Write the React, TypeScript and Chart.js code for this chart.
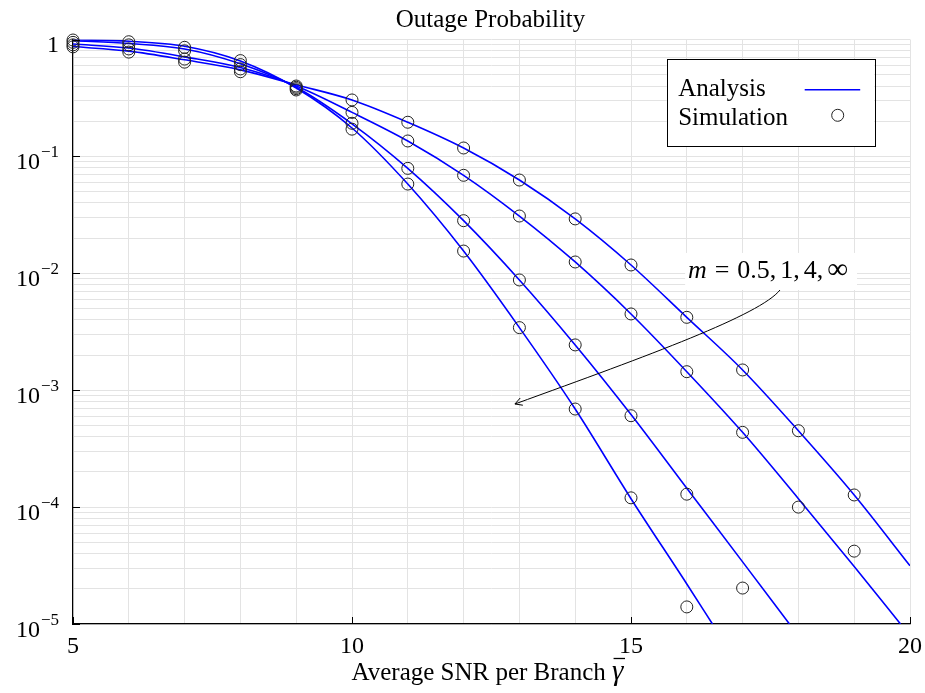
import React, { useEffect, useRef } from "react";
import { Chart, registerables } from "chart.js";

Chart.register(...registerables);

// ---------------- data ----------------
// Analysis curves, m = infinity, 4, 1, 0.5
const analysisXInf = [5, 6, 7, 8, 9, 10, 11, 12, 13, 14, 15, 16, 16.46];
const analysisYInf = [0.995, 0.965, 0.875, 0.655, 0.385, 0.175, 0.058, 0.0155, 0.00343, 0.00069, 0.000118, 2.2e-5, 1e-5];

const analysisX4 = [5, 6, 7, 8, 9, 10, 11, 12, 13, 14, 15, 16, 17, 17.84];
const analysisY4 = [0.975, 0.925, 0.83, 0.62, 0.39, 0.19, 0.079, 0.0282, 0.00877, 0.00244, 0.00062, 0.000145, 3.4e-5, 1e-5];

const analysisX1 = [5, 6, 7, 8, 9, 10, 11, 12, 13, 14, 15, 16, 17, 18, 19, 19.83];
const analysisY1 = [0.915, 0.845, 0.71, 0.575, 0.4, 0.238, 0.1355, 0.0689, 0.0309, 0.0125, 0.00449, 0.00144, 0.000436, 0.000118, 3.1e-5, 1e-5];

const analysisX05 = [5, 6, 7, 8, 9, 10, 11, 12, 13, 14, 15, 16, 17, 18, 19, 20];
const analysisY05 = [0.87, 0.795, 0.67, 0.55, 0.41, 0.304, 0.196, 0.118, 0.0628, 0.0292, 0.01178, 0.0042, 0.00149, 0.00045, 0.000127, 3.15e-5];

// Simulation points
const simX = [5, 6, 7, 8, 9, 10, 11, 12, 13, 14, 15, 16, 17, 18, 19];
const simInf = [0.99, 0.957, 0.857, 0.66, 0.37, 0.171, 0.058, 0.0155, 0.00343, 0.00069, 0.00012, 1.4e-5, null, null, null];
const sim4 = [0.945, 0.9, 0.8, 0.61, 0.38, 0.192, 0.079, 0.0282, 0.00877, 0.00244, 0.000605, 0.000129, 2.03e-5, null, null];
const sim1 = [0.9, 0.83, 0.68, 0.56, 0.39, 0.238, 0.1355, 0.0689, 0.0309, 0.0125, 0.00449, 0.00144, 0.000436, 1.0e-4, 4.2e-5];
const sim05 = [0.865, 0.78, 0.64, 0.53, 0.4, 0.304, 0.196, 0.118, 0.0628, 0.0292, 0.01178, 0.0042, 0.00149, 0.00045, 0.000127];

// Axis ticks
const xMin = 5;
const xMax = 20;
const xLabelTicks = [5, 10, 15, 20];
const yExponents = [0, -1, -2, -3, -4, -5];
const yMinorMultipliers = [1, 2, 3, 4, 5, 6, 7, 8, 9];

// Texts
const titleText = "Outage Probability";
const xTitleText = "Average SNR per Branch";
const legendLabels = ["Analysis", "Simulation"];
const annotationLabel = ["m", "=", "0.5", "1", "4", "\u221E"];
// annotation anchor positions in data units
const annoBox = { x0: 15.97, x1: 19.05, y0: Math.pow(10, -1.826), y1: Math.pow(10, -2.143) };
const annoText = { x: 16.02, y: Math.pow(10, -2.04) };
const annoArrow = {
  start: { x: 17.67, y: Math.pow(10, -2.143) },
  cp1: { x: 17.31, y: Math.pow(10, -2.357) },
  cp2: { x: 15.34, y: Math.pow(10, -2.699) },
  end: { x: 12.92, y: Math.pow(10, -3.118) },
};

const BLUE = "rgb(0,0,255)";
const GRID = "#e3e3e3";
const SERIF = '"Liberation Serif", "Times New Roman", serif';

function zip(xs: number[], ys: (number | null)[]) {
  return xs.map((x, i) => ({ x, y: ys[i] }));
}

const decorations = {
  id: "decorations",
  afterDatasetsDraw(chart: any) {
    const ctx = chart.ctx as CanvasRenderingContext2D;
    const xs = chart.scales.x;
    const ys = chart.scales.y;
    const px = (v: number) => xs.getPixelForValue(v);
    const py = (v: number) => ys.getPixelForValue(v);
    ctx.save();
    // white label background
    ctx.fillStyle = "#fff";
    const bx0 = px(annoBox.x0), bx1 = px(annoBox.x1), by0 = py(annoBox.y0), by1 = py(annoBox.y1);
    ctx.fillRect(bx0, by0, bx1 - bx0, by1 - by0);
    // label text
    let cx = px(annoText.x);
    const base = py(annoText.y);
    ctx.fillStyle = "#000";
    ctx.textBaseline = "alphabetic";
    ctx.textAlign = "left";
    ctx.font = `italic 26px ${SERIF}`;
    ctx.fillText(annotationLabel[0], cx, base);
    cx += ctx.measureText(annotationLabel[0]).width + 8;
    ctx.font = `26px ${SERIF}`;
    ctx.fillText(annotationLabel[1], cx, base);
    cx += ctx.measureText(annotationLabel[1]).width + 8;
    const rest = annotationLabel.slice(2);
    rest.forEach((t, i) => {
      if (t === "\u221E") {
        ctx.font = `29px ${SERIF}`;
      }
      ctx.fillText(t, cx, base);
      cx += ctx.measureText(t).width;
      if (i < rest.length - 1) {
        ctx.fillText(",", cx, base);
        cx += ctx.measureText(",").width + 4;
      }
    });
    // arrow
    const s = { x: px(annoArrow.start.x), y: py(annoArrow.start.y) };
    const c1 = { x: px(annoArrow.cp1.x), y: py(annoArrow.cp1.y) };
    const c2 = { x: px(annoArrow.cp2.x), y: py(annoArrow.cp2.y) };
    const e = { x: px(annoArrow.end.x), y: py(annoArrow.end.y) };
    ctx.strokeStyle = "#000";
    ctx.lineWidth = 1;
    ctx.beginPath();
    ctx.moveTo(s.x, s.y);
    ctx.bezierCurveTo(c1.x, c1.y, c2.x, c2.y, e.x, e.y);
    ctx.stroke();
    const ang = Math.atan2(e.y - c2.y, e.x - c2.x);
    const L = 8;
    ctx.beginPath();
    ctx.moveTo(e.x - L * Math.cos(ang - 0.5), e.y - L * Math.sin(ang - 0.5));
    ctx.lineTo(e.x, e.y);
    ctx.lineTo(e.x - L * Math.cos(ang + 0.5), e.y - L * Math.sin(ang + 0.5));
    ctx.stroke();
    ctx.restore();
  },
  afterDraw(chart: any) {
    const ctx = chart.ctx as CanvasRenderingContext2D;
    const xs = chart.scales.x;
    const ys = chart.scales.y;
    const area = chart.chartArea;
    ctx.save();
    ctx.strokeStyle = "#000";
    ctx.fillStyle = "#000";
    ctx.lineWidth = 1;
    // inward tick marks
    yExponents.forEach((k) => {
      const ty = Math.round(ys.getPixelForValue(Math.pow(10, k))) + 0.5;
      ctx.beginPath();
      ctx.moveTo(area.left, ty);
      ctx.lineTo(area.left + 7, ty);
      ctx.stroke();
    });
    xLabelTicks.forEach((v) => {
      const tx = Math.round(xs.getPixelForValue(v)) + 0.5;
      ctx.beginPath();
      ctx.moveTo(tx, area.bottom);
      ctx.lineTo(tx, area.bottom - 7);
      ctx.stroke();
    });
    // y tick labels
    ctx.textBaseline = "alphabetic";
    ctx.textAlign = "right";
    const rightEdge = area.left - 14;
    yExponents.forEach((k) => {
      const ty = ys.getPixelForValue(Math.pow(10, k));
      if (k === 0) {
        ctx.font = `24px ${SERIF}`;
        ctx.fillText("1", rightEdge, ty + 12);
      } else {
        ctx.font = `17px ${SERIF}`;
        const sup = "\u2212" + String(-k);
        const w = ctx.measureText(sup).width;
        ctx.fillText(sup, rightEdge, ty + 1);
        ctx.font = `24px ${SERIF}`;
        ctx.fillText("10", rightEdge - w - 1, ty + 13);
      }
    });
    // x tick labels
    ctx.textAlign = "center";
    ctx.font = `24px ${SERIF}`;
    xLabelTicks.forEach((v) => {
      ctx.fillText(String(v), xs.getPixelForValue(v), area.bottom + 29);
    });
    // title
    const cxm = (area.left + area.right) / 2;
    ctx.font = `25px ${SERIF}`;
    ctx.fillText(titleText, cxm - 1, area.top - 12.5);
    // x axis title with gamma-bar
    ctx.font = `25px ${SERIF}`;
    const mainW = ctx.measureText(xTitleText + " ").width;
    ctx.font = `italic 29px ${SERIF}`;
    const gW = ctx.measureText("\u03B3").width;
    const total = mainW + gW;
    const startX = cxm - 4 - total / 2;
    const baseY = area.bottom + 56;
    ctx.textAlign = "left";
    ctx.font = `25px ${SERIF}`;
    ctx.fillText(xTitleText + " ", startX, baseY);
    ctx.font = `italic 29px ${SERIF}`;
    ctx.fillText("\u03B3", startX + mainW, baseY);
    ctx.lineWidth = 1.3;
    ctx.beginPath();
    ctx.moveTo(startX + mainW + 1.5, baseY - 21.5);
    ctx.lineTo(startX + mainW + gW + 1.5, baseY - 21.5);
    ctx.stroke();
    // legend
    const lx0 = area.right - 243.3;
    const lx1 = area.right - 35.7;
    const ly0 = area.top + 19.8;
    const ly1 = area.top + 107.2;
    ctx.fillStyle = "#fff";
    ctx.fillRect(lx0, ly0, lx1 - lx0, ly1 - ly0);
    ctx.strokeStyle = "#000";
    ctx.lineWidth = 1;
    ctx.strokeRect(Math.round(lx0) + 0.5, Math.round(ly0) + 0.5, Math.round(lx1 - lx0), Math.round(ly1 - ly0));
    ctx.fillStyle = "#000";
    ctx.font = `25px ${SERIF}`;
    ctx.textAlign = "left";
    ctx.fillText(legendLabels[0], lx0 + 11.5, ly0 + 36.5);
    ctx.fillText(legendLabels[1], lx0 + 11.5, ly0 + 65.5);
    ctx.strokeStyle = BLUE;
    ctx.lineWidth = 1.6;
    ctx.beginPath();
    ctx.moveTo(lx0 + 138, ly0 + 30.5);
    ctx.lineTo(lx0 + 193.5, ly0 + 30.5);
    ctx.stroke();
    ctx.strokeStyle = "#222";
    ctx.lineWidth = 1;
    ctx.beginPath();
    ctx.arc(lx0 + 171, ly0 + 56, 6, 0, Math.PI * 2);
    ctx.stroke();
    ctx.restore();
  },
};

export default function App() {
  const ref = useRef<HTMLCanvasElement | null>(null);
  useEffect(() => {
    document.body.style.margin = "0";
    const canvas = ref.current;
    if (!canvas) return;
    const yTicks: number[] = [];
    [...yExponents].reverse().forEach((k) => {
      if (k === 0) {
        yTicks.push(1);
      } else {
        yMinorMultipliers.forEach((m) => yTicks.push(m * Math.pow(10, k)));
      }
    });
    const lineDs = (xs: number[], ys: number[]) => ({
      data: zip(xs, ys),
      borderColor: BLUE,
      borderWidth: 1.6,
      pointRadius: 0,
      fill: false,
      showLine: true,
      cubicInterpolationMode: "monotone" as const,
    });
    const simDs = (ys: (number | null)[]) => ({
      data: zip(simX, ys),
      showLine: false,
      pointStyle: "circle" as const,
      pointRadius: 6,
      pointBorderWidth: 1,
      pointBorderColor: "#222",
      pointBackgroundColor: "rgba(0,0,0,0)",
      borderColor: "#222",
      backgroundColor: "rgba(0,0,0,0)",
      clip: false as any,
    });
    const chart = new Chart(canvas, {
      type: "line",
      data: {
        datasets: [
          simDs(simInf),
          simDs(sim4),
          simDs(sim1),
          simDs(sim05),
          lineDs(analysisXInf, analysisYInf),
          lineDs(analysisX4, analysisY4),
          lineDs(analysisX1, analysisY1),
          lineDs(analysisX05, analysisY05),
        ] as any,
      },
      options: {
        animation: false,
        responsive: false,
        maintainAspectRatio: false,
        layout: { padding: { top: 39.5, right: 15, left: 0, bottom: 0 } },
        plugins: {
          legend: { display: false },
          title: { display: false },
          tooltip: { enabled: false },
        },
        events: [],
        scales: {
          x: {
            type: "linear",
            min: xMin,
            max: xMax,
            ticks: { display: false, stepSize: 1 },
            grid: { color: GRID, lineWidth: 1, drawTicks: false },
            border: { display: true, color: "#000", width: 1.2 },
            afterFit: (s: any) => {
              s.height = 69;
            },
          },
          y: {
            type: "logarithmic",
            min: 1e-5,
            max: 1,
            ticks: { display: false },
            grid: { color: GRID, lineWidth: 1, drawTicks: false },
            border: { display: true, color: "#000", width: 1.2 },
            afterBuildTicks: (s: any) => {
              s.ticks = yTicks.map((v) => ({ value: v }));
            },
            afterFit: (s: any) => {
              s.width = 73;
            },
          },
        },
      } as any,
      plugins: [decorations],
    });
    return () => chart.destroy();
  }, []);
  return (
    <canvas
      ref={ref}
      width={925}
      height={693}
      style={{ display: "block", width: 925, height: 693 }}
    />
  );
}
